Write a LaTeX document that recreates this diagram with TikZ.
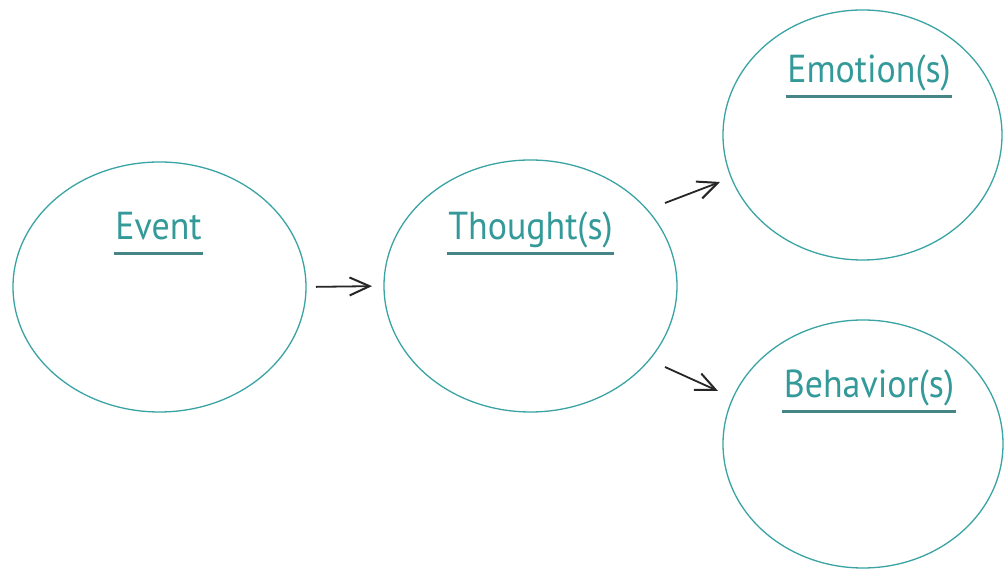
\documentclass[tikz,border=0pt]{standalone}
\usepackage{fontspec}
\usetikzlibrary{shapes.geometric,arrows.meta}
\newfontfamily\labelfont[FakeStretch=0.92]{PT Sans}
\definecolor{ringteal}{HTML}{3AA3A3}
\definecolor{textteal}{HTML}{339999}
\definecolor{ruleteal}{HTML}{468585}
\tikzset{
  x=1pt, y=1pt,
  ring/.style={draw=ringteal, line width=1.3pt, ellipse, inner sep=0pt, outer sep=0pt},
  lbl/.style={anchor=base, text=textteal, font=\labelfont\fontsize{39}{39}\selectfont, inner xsep=1.5pt, inner ysep=0pt},
  rulebar/.style={draw=ruleteal, line width=2.3pt},
  conn/.style={draw=black!85, line width=1.8pt, -{Straight Barb[length=20pt,width=18pt,line width=2pt]}}
}
\begin{document}
\begin{tikzpicture}
\useasboundingbox[fill=white] (0,0) rectangle (1005,569);

% the four circles of the sequence
\node[ring, minimum width=293pt, minimum height=250pt] (event)    at (159.5,282) {};
\node[ring, minimum width=293pt, minimum height=252pt] (thought)  at (530.5,283) {};
\node[ring, minimum width=279pt, minimum height=250pt] (emotion)  at (862.5,434) {};
\node[ring, minimum width=280pt, minimum height=248pt] (behavior) at (863,125) {};

% underlined titles
\node[lbl] (l-event)    at (158.5,329) {Event};
\node[lbl] (l-thought)  at (530.5,329) {Thought(s)};
\node[lbl] (l-emotion)  at (869,486)   {Emotion(s)};
\node[lbl] (l-behavior) at (869,171)   {Behavior(s)};
\foreach \n in {l-event,l-thought,l-emotion,l-behavior}
  \draw[rulebar] ([yshift=-13.5pt]\n.base west) -- ([yshift=-13.5pt]\n.base east);

% arrows
\draw[conn, shorten <=10pt, shorten >=12pt] (event.east) -- (thought.west);
\draw[conn] ([shift={(134.5,83)}]thought.center) -- ([shift={(-142.5,-47)}]emotion.center);
\draw[conn] ([shift={(134.5,-81)}]thought.center) -- ([shift={(-145,53)}]behavior.center);
\end{tikzpicture}
\end{document}
